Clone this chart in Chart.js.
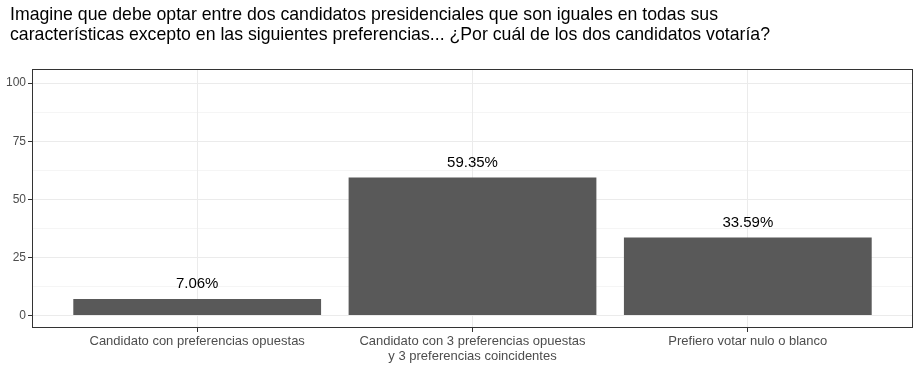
<!DOCTYPE html>
<html>
<head>
<meta charset="utf-8">
<script src="https://cdn.jsdelivr.net/npm/chart.js@4"></script>
<style>
  body { margin: 0; background: #fff; }
  #wrap { width: 921px; height: 368px; }
</style>
</head>
<body>
<div id="wrap"><canvas id="chart" width="921" height="368"></canvas></div>
<script>
const titleLines = [
  'Imagine que debe optar entre dos candidatos presidenciales que son iguales en todas sus',
  'características excepto en las siguientes preferencias... ¿Por cuál de los dos candidatos votaría?'
];
const categories = [
  ['Candidato con preferencias opuestas'],
  ['Candidato con 3 preferencias opuestas', 'y 3 preferencias coincidentes'],
  ['Prefiero votar nulo o blanco']
];
const percents = [7.06, 59.35, 33.59];
const yTicks = [0, 12.5, 25, 37.5, 50, 62.5, 75, 87.5, 100];

// title drawn above panel, border around panel, labels over bars
const extras = {
  id: 'extras',
  afterDraw(chart) {
    const ctx = chart.ctx;
    const a = chart.chartArea;
    ctx.save();
    ctx.strokeStyle = '#333333';
    ctx.lineWidth = 1;
    ctx.strokeRect(a.left + 0.5, a.top + 0.5, a.right - a.left - 1, a.bottom - a.top - 1);

    ctx.fillStyle = '#000';
    ctx.font = '17.7px "Liberation Sans", Arial, sans-serif';
    ctx.textBaseline = 'middle';
    ctx.textAlign = 'left';
    titleLines.forEach((t, i) => ctx.fillText(t, 10, 15 + i * 20));

    ctx.font = '15px "Liberation Sans", Arial, sans-serif';
    ctx.textAlign = 'center';
    chart.getDatasetMeta(0).data.forEach((bar, i) => {
      ctx.fillText(percents[i].toFixed(2) + '%', bar.x, bar.y - 15);
    });
    ctx.restore();
  }
};

const ctx = document.getElementById('chart').getContext('2d');
new Chart(ctx, {
  type: 'bar',
  data: {
    datasets: [{
      data: percents.map((v, i) => ({ x: i + 1, y: v })),
      backgroundColor: '#595959',
      borderWidth: 0,
      categoryPercentage: 1,
      barPercentage: 0.9
    }]
  },
  options: {
    responsive: false,
    animation: false,
    layout: { padding: { top: 69, right: 8, left: 0, bottom: 0 } },
    plugins: { legend: { display: false }, tooltip: { enabled: false } },
    scales: {
      x: {
        type: 'linear',
        min: 0.4,
        max: 3.6,
        offset: false,
        afterBuildTicks: (s) => { s.ticks = [1, 2, 3].map(v => ({ value: v })); },
        afterFit: (s) => { s.height = 40; },
        border: { display: false },
        grid: { offset: false, color: '#ebebeb', tickColor: '#333333', tickLength: 4 },
        ticks: {
          color: '#4d4d4d',
          font: { size: 13, family: '"Liberation Sans", Arial, sans-serif', lineHeight: 1.15 },
          padding: 2,
          maxRotation: 0,
          autoSkip: false,
          callback: (v) => categories[v - 1]
        }
      },
      y: {
        min: -5.4,
        max: 106.1,
        afterBuildTicks: (s) => { s.ticks = yTicks.map(v => ({ value: v })); },
        afterFit: (s) => { s.width = 32; },
        border: { display: false },
        grid: {
          color: '#ebebeb',
          lineWidth: (c) => (c.tick && c.tick.value % 25 === 0 ? 1 : 0.5),
          tickColor: (c) => (c.tick && c.tick.value % 25 === 0 ? '#333333' : 'rgba(0,0,0,0)'),
          tickLength: 4
        },
        ticks: {
          color: '#4d4d4d',
          font: { size: 12, family: '"Liberation Sans", Arial, sans-serif' },
          padding: 2,
          callback: (v) => (v % 25 === 0 ? v : '')
        }
      }
    }
  },
  plugins: [extras]
});
</script>
</body>
</html>
